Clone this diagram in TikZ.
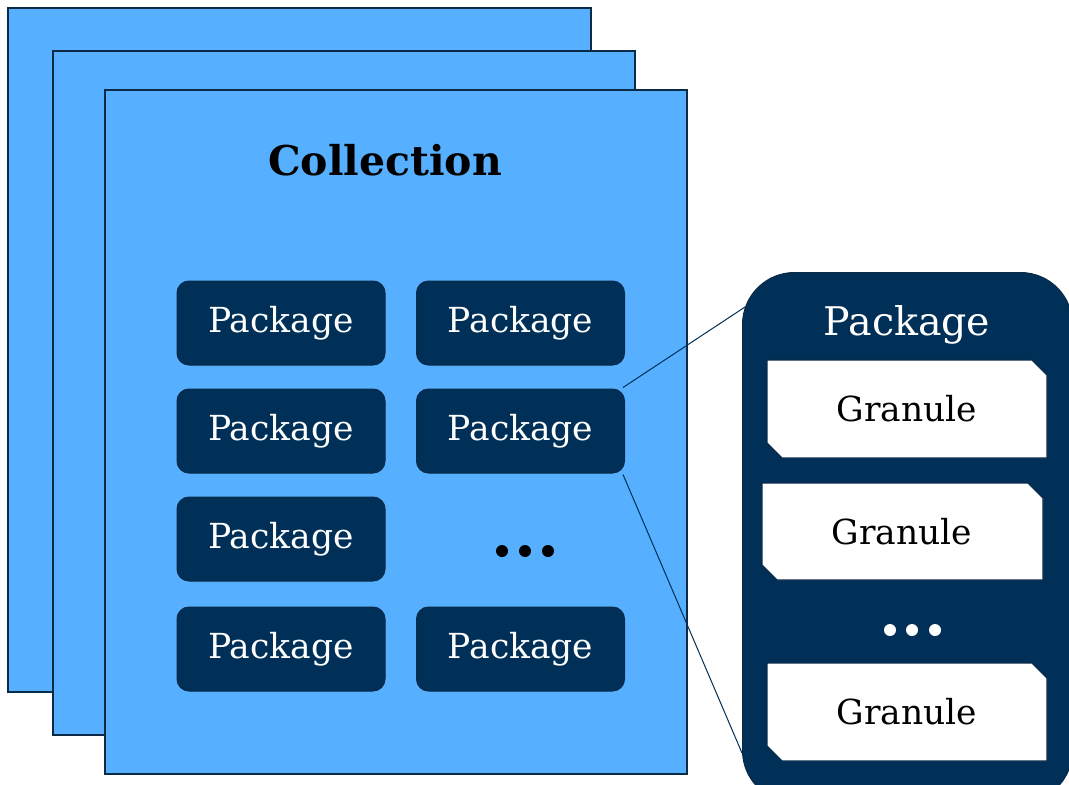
\documentclass[tikz,border=0pt]{standalone}
\usepackage{fontspec}
\setmainfont{DejaVu Serif}
\definecolor{sky}{HTML}{56B0FF}
\definecolor{navy}{HTML}{003057}
\definecolor{edge}{HTML}{0A2A48}
\begin{document}
\begin{tikzpicture}[x=1pt,y=-1pt,
  sheet/.style={draw=edge,line width=2pt,fill=sky},
  pkg/.style={draw=edge,line width=1pt,fill=navy,rounded corners=12pt,minimum width=208pt,minimum height=84pt,text=white,font=\fontsize{34.5}{40}\selectfont,inner sep=0pt},
  gran/.style={draw=edge,line width=1.2pt,fill=white},
  granlabel/.style={font=\fontsize{34.5}{40}\selectfont,text=black},
  link/.style={draw=navy,line width=1pt},
  dot/.style={circle,inner sep=0pt,minimum size=12pt}
]
\useasboundingbox (0,0) rectangle (1069,785);
% stacked sheets
\path[sheet] (8,8) rectangle (591,692);
\path[sheet] (53,51) rectangle (635,735);
\path[sheet] (105,90) rectangle (687,774);
\node[font=\bfseries\fontsize{41}{48}\selectfont] (title) at (385,160) {Collection};
% packages
\node[pkg] (p11) at (281,323) {Package};
\node[pkg] (p12) at (520.5,323) {Package};
\node[pkg] (p21) at (281,431) {Package};
\node[pkg] (p22) at (520.5,431) {Package};
\node[pkg] (p31) at (281,539) {Package};
\node[pkg] (p41) at (281,649) {Package};
\node[pkg] (p42) at (520.5,649) {Package};
\node[dot,fill=black] (d1) at (502,551) {};
\node[dot,fill=black] (d2) at (525,551) {};
\node[dot,fill=black] (d3) at (548,551) {};
% expanded package panel
\node[draw=edge,line width=1pt,fill=navy,rounded corners=52pt,minimum width=330pt,minimum height=530pt,inner sep=0pt,anchor=north west] (panel) at (742,272) {};
\node[text=white,font=\fontsize{39.5}{46}\selectfont] (ptitle) at (907,325) {Package};
\path[gran] (767,360) -- (1032,360) -- (1047,375) -- (1047,458) -- (782,458) -- (767,443) -- cycle;
\node[granlabel] (g1) at (907,409) {Granule};
\path[gran] (762,483) -- (1028,483) -- (1043,498) -- (1043,580) -- (777,580) -- (762,565) -- cycle;
\node[granlabel] (g2) at (902,532) {Granule};
\path[gran] (767,663) -- (1032,663) -- (1047,678) -- (1047,761) -- (782,761) -- (767,746) -- cycle;
\node[granlabel] (g3) at (907,712) {Granule};
\node[dot,fill=white] (w1) at (890,630) {};
\node[dot,fill=white] (w2) at (912,630) {};
\node[dot,fill=white] (w3) at (935,630) {};
% connectors
\coordinate (c1) at (745,307);
\coordinate (c2) at (742,753);
\draw[link] (p22.north east) ++(-2,-1) -- (c1);
\draw[link] (p22.south east) ++(-2,1) -- (c2);
\end{tikzpicture}
\end{document}
